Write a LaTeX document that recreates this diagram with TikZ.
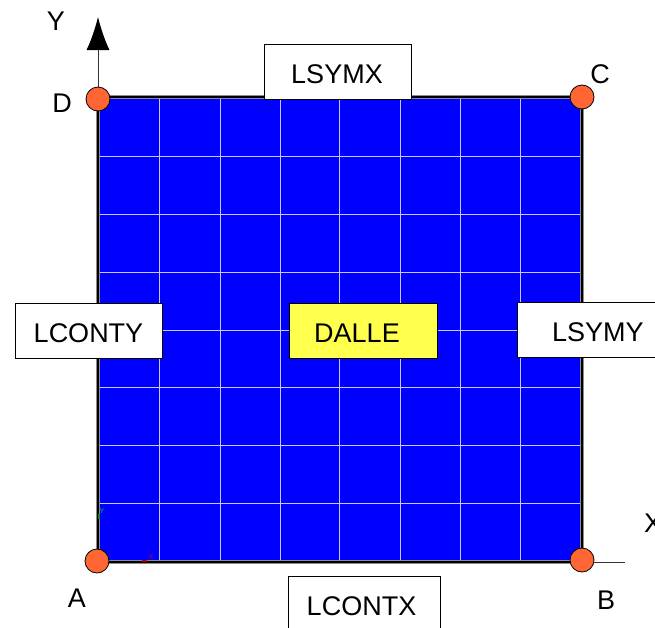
\documentclass[tikz,border=0pt]{standalone}
\usepackage{fontspec}
\setmainfont{Liberation Sans}
\usetikzlibrary{arrows.meta,positioning}
\definecolor{cornerfill}{HTML}{FF6633}
\definecolor{loadfill}{HTML}{FFFF4D}
\definecolor{meshline}{HTML}{C8C8FF}

\begin{document}
\begin{tikzpicture}[
		x=1pt, y=-1pt,
		basic/.style  = {draw, line width=0.7pt, rectangle, minimum height=55pt, inner sep=0pt, text height=23pt, text depth=0pt, font=\fontsize{27}{30}\selectfont},
		edgebox/.style = {basic, fill=white, minimum width=147pt},
		loadbox/.style = {basic, fill=loadfill, minimum width=148pt},
		corner/.style = {draw, circle, line width=0.8pt, fill=cornerfill, minimum size=24pt, inner sep=0pt},
		letter/.style = {font=\fontsize{27}{30}\selectfont, inner sep=0pt},
		gridline/.style = {draw=meshline, line width=1pt},
		axis/.style = {draw=black!80, line width=0.8pt},
		>=latex]
		
		\clip (0,0) rectangle (655,627);
		\path[fill=white] (0,0) rectangle (655,627);
		
		% the plate with its mesh
		\fill[blue] (98,97) rectangle (582,562);
		\foreach \value in {159,220,280,339,400,460,520}
		\draw[gridline] (\value,97) -- (\value,562);
		\foreach \value in {156,214,272,330,387,445,503}
		\draw[gridline] (98,\value) -- (582,\value);
		
		% corners of the plate
		\coordinate (pa) at (98,562);
		\coordinate (pb) at (582,562);
		\coordinate (pc) at (582,97);
		\coordinate (pd) at (98,97);
		\draw[black!45, line width=3.6pt] (pa) -- (pb) -- (pc) -- (pd) -- cycle;
		\draw[black, line width=2pt] (pa) -- (pb) -- (pc) -- (pd) -- cycle;
		
		% axes
		\coordinate (xend) at (625,562);
		\coordinate (yend) at (98,17);
		\draw[axis] (pb) -- (xend);
		\draw[axis, -{Latex[length=33pt,width=23pt,black]}] (pd) -- (yend);
		
		% small mesh axes
		\draw[green!60!black, line width=1.3pt] (99,519) -- (99,514);
		\draw[red!70!black, line width=1.3pt] (142,561) -- (147,561);
		\node[text=green!80!black, font=\fontsize{7}{7}\selectfont, inner sep=0pt] (ysmall) at (102,511) {Y};
		\node[text=red!80!black, font=\fontsize{7}{7}\selectfont, inner sep=0pt] (xsmall) at (151,557) {X};
		
		% the boxes
		\node[edgebox] (lsymx) at (338,71.5) {\hspace*{-2pt}LSYMX};
		\node[edgebox] (lconty) at (88.5,331) {LCONTY};
		\node[loadbox] (dalle) at (363,331) {\hspace*{-12pt}DALLE};
		\node[edgebox, minimum width=158pt, text width=158pt, align=left] (lsymy) at (596,330) {\hspace{35pt}LSYMY};
		\node[edgebox, minimum width=152pt] (lcontx) at (364,604) {\hspace*{-5pt}LCONTX};
		
		% corner points
		\node[corner] (a) at (97,561) {};
		\node[corner] (b) at (582,560) {};
		\node[corner] (c) at (582,97) {};
		\node[corner] (d) at (98,99) {};
		
		% letters
		\node[letter] (la) at (77,598) {A};
		\node[letter] (lb) at (606,600) {B};
		\node[letter] (lc) at (600,74) {C};
		\node[letter] (ld) at (62,103) {D};
		\node[letter] (lx) at (653,523) {X};
		\node[letter] (ly) at (56,21) {Y};
		
	\end{tikzpicture}
\end{document}
